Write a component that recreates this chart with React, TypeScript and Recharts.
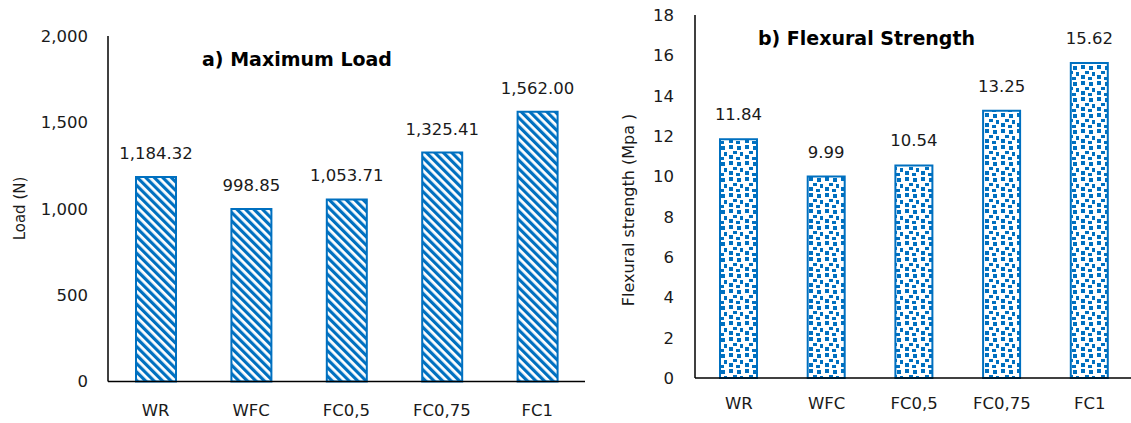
import React from 'react';
import { BarChart, Bar, XAxis, YAxis, LabelList, Label } from 'recharts';

const categories = ['WR', 'WFC', 'FC0,5', 'FC0,75', 'FC1'];
const maxLoad = [1184.32, 998.85, 1053.71, 1325.41, 1562.0];
const flexural = [11.84, 9.99, 10.54, 13.25, 15.62];
const loadTicks = [0, 500, 1000, 1500, 2000];
const strengthTicks = [0, 2, 4, 6, 8, 10, 12, 14, 16, 18];

const loadData = categories.map((c, i) => ({ name: c, value: maxLoad[i] }));
const strengthData = categories.map((c, i) => ({ name: c, value: flexural[i] }));

const FONT = 'DejaVu Sans';
const BLUE = '#0070C0';
const TXT = '#1a1a1a';

const fmtThousands = (v: number) => v.toLocaleString('en-US');
const fmt2 = (v: number) =>
  v.toLocaleString('en-US', { minimumFractionDigits: 2, maximumFractionDigits: 2 });

const tickStyle = { fontFamily: FONT, fontSize: 16.5, fill: TXT };
const labelStyle = { fontFamily: FONT, fontSize: 16.5, fill: TXT };

export default function App() {
  return (
    <div
      style={{
        position: 'absolute',
        left: 0,
        top: 0,
        width: 1131,
        height: 423,
        overflow: 'hidden',
        background: '#fff',
      }}
    >
      <svg width={0} height={0} style={{ position: 'absolute' }}>
        <defs>
          <pattern id="stripes" patternUnits="userSpaceOnUse" width={6} height={6} patternTransform="rotate(-45)">
            <rect x={0} y={0} width={6} height={6} fill="#fff" />
            <rect x={0} y={0} width={3.2} height={6} fill={BLUE} />
          </pattern>
          <pattern id="confetti" patternUnits="userSpaceOnUse" width={16} height={16}>
            <rect x={0} y={0} width={16} height={16} fill="#fff" />
            <rect x={1} y={1} width={4} height={4} fill={BLUE} />
            <rect x={9} y={2} width={4} height={4} fill={BLUE} />
            <rect x={5} y={7} width={4} height={3} fill={BLUE} />
            <rect x={12} y={8} width={3} height={4} fill={BLUE} />
            <rect x={1} y={11} width={4} height={4} fill={BLUE} />
            <rect x={8} y={13} width={4} height={3} fill={BLUE} />
          </pattern>
        </defs>
      </svg>

      <div style={{ position: 'absolute', left: 0, top: 0 }}>
        <BarChart
          width={600}
          height={423}
          data={loadData}
          margin={{ top: 36, right: 15, bottom: 11.5, left: 0 }}
          barSize={40}
        >
          <XAxis
            dataKey="name"
            tickLine={false}
            tickSize={6}
            tickMargin={16.5}
            height={30}
            axisLine={{ stroke: '#000', strokeWidth: 1.5 }}
            tick={tickStyle}
          />
          <YAxis
            width={108}
            domain={[0, 2000]}
            ticks={loadTicks}
            tickFormatter={fmtThousands}
            tickLine={false}
            tickSize={6}
            tickMargin={14}
            axisLine={{ stroke: '#000', strokeWidth: 1.5 }}
            tick={tickStyle}
          >
            <Label
              content={() => (
                <g>
                  <text
                    x={20}
                    y={208.5}
                    transform="rotate(-90 20 208.5)"
                    textAnchor="middle"
                    dominantBaseline="central"
                    fontFamily={FONT}
                    fontSize={15}
                    fill={TXT}
                  >
                    Load (N)
                  </text>
                  <text
                    x={297}
                    y={66}
                    textAnchor="middle"
                    fontFamily={FONT}
                    fontSize={19}
                    fontWeight="bold"
                    fill="#000"
                  >
                    a) Maximum Load
                  </text>
                </g>
              )}
            />
          </YAxis>
          <Bar
            dataKey="value"
            fill="url(#stripes)"
            stroke={BLUE}
            strokeWidth={2}
            isAnimationActive={false}
          >
            <LabelList
              dataKey="value"
              position="top"
              offset={18}
              formatter={(v: any) => fmt2(Number(v))}
              style={labelStyle}
            />
          </Bar>
        </BarChart>
      </div>

      <div style={{ position: 'absolute', left: 600, top: 0 }}>
        <BarChart
          width={540}
          height={423}
          data={strengthData}
          margin={{ top: 15, right: 6.5, bottom: 15, left: 0 }}
          barSize={37}
        >
          <XAxis
            dataKey="name"
            tickLine={false}
            tickSize={6}
            tickMargin={13.5}
            height={30}
            axisLine={{ stroke: '#000', strokeWidth: 1.5 }}
            tick={tickStyle}
          />
          <YAxis
            width={95}
            domain={[0, 18]}
            ticks={strengthTicks}
            tickLine={false}
            tickSize={6}
            tickMargin={15}
            axisLine={{ stroke: '#000', strokeWidth: 1.5 }}
            tick={tickStyle}
          >
            <Label
              content={() => (
                <g>
                  <text
                    x={28}
                    y={210}
                    transform="rotate(-90 28 210)"
                    textAnchor="middle"
                    dominantBaseline="central"
                    fontFamily={FONT}
                    fontSize={16}
                    fill={TXT}
                  >
                    Flexural strength (Mpa )
                  </text>
                  <text
                    x={266.5}
                    y={45}
                    textAnchor="middle"
                    fontFamily={FONT}
                    fontSize={19}
                    fontWeight="bold"
                    fill="#000"
                  >
                    b) Flexural Strength
                  </text>
                </g>
              )}
            />
          </YAxis>
          <Bar
            dataKey="value"
            fill="url(#confetti)"
            stroke={BLUE}
            strokeWidth={2}
            isAnimationActive={false}
          >
            <LabelList
              dataKey="value"
              position="top"
              offset={19}
              formatter={(v: any) => fmt2(Number(v))}
              style={labelStyle}
            />
          </Bar>
        </BarChart>
      </div>
    </div>
  );
}
